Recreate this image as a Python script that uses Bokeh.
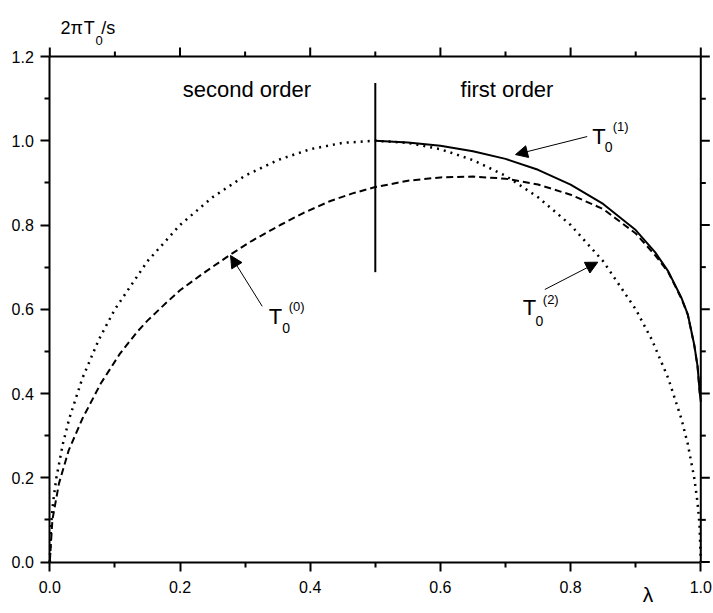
from bokeh.plotting import figure
from bokeh.models import (Range1d, LinearAxis, FixedTicker, PrintfTickFormatter,
                          Arrow, NormalHead, Label)
from bokeh.embed import file_html
from bokeh.resources import INLINE

# ---- data ----
lam_t2 = [0.0, 0.002, 0.005, 0.01, 0.02, 0.03, 0.05, 0.075, 0.1, 0.15, 0.2, 0.25, 0.3, 0.35, 0.4, 0.45,
          0.5, 0.55, 0.6, 0.65, 0.7, 0.75, 0.8, 0.85, 0.9, 0.925, 0.95, 0.97, 0.98, 0.99, 0.995, 0.998, 1.0]
t2 = [0.0, 0.089, 0.141, 0.199, 0.280, 0.341, 0.436, 0.527, 0.600, 0.714, 0.800, 0.866, 0.917, 0.954, 0.980, 0.995,
      1.000, 0.995, 0.980, 0.954, 0.917, 0.866, 0.800, 0.714, 0.600, 0.527, 0.436, 0.341, 0.280, 0.199, 0.141, 0.089, 0.0]

lam_t0 = [0.0, 0.004, 0.014, 0.029, 0.05, 0.078, 0.1075, 0.134, 0.15, 0.18, 0.2, 0.24, 0.2776, 0.31, 0.354,
          0.39, 0.431, 0.465, 0.5, 0.55, 0.6, 0.65, 0.7, 0.75, 0.8, 0.85, 0.9, 0.93, 0.95, 0.97, 0.98, 0.99,
          0.995, 0.9985]
t0 = [0.0, 0.100, 0.186, 0.265, 0.340, 0.423, 0.494, 0.546, 0.573, 0.617, 0.645, 0.690, 0.730, 0.762, 0.800,
      0.829, 0.857, 0.875, 0.890, 0.905, 0.913, 0.915, 0.910, 0.896, 0.872, 0.838, 0.780, 0.728, 0.688, 0.626,
      0.587, 0.514, 0.464, 0.400]

lam_t1 = [0.5, 0.55, 0.6, 0.65, 0.7, 0.75, 0.8, 0.85, 0.9, 0.93, 0.95, 0.97, 0.98, 0.99, 0.995, 0.9985, 1.0]
t1 = [1.000, 0.996, 0.988, 0.975, 0.957, 0.931, 0.896, 0.850, 0.788, 0.735, 0.690, 0.628, 0.588, 0.515, 0.465,
      0.400, 0.380]

vline_x = [0.5, 0.5]
vline_y = [0.688, 1.137]

x_major = [0.0, 0.2, 0.4, 0.6, 0.8, 1.0]
x_minor = [0.1, 0.3, 0.5, 0.7, 0.9]
y_major = [0.0, 0.2, 0.4, 0.6, 0.8, 1.0, 1.2]
y_minor = [0.1, 0.3, 0.5, 0.7, 0.9, 1.1]

# annotation positions (data units)
arrows = [  # (x_start, y_start, x_end, y_end)
    (0.8255, 1.010, 0.7154, 0.9672),
    (0.7604, 0.6469, 0.8418, 0.7117),
    (0.3263, 0.6070, 0.2776, 0.7276),
]

FONT = "Liberation Sans"
W, H = 712, 612
# frame spans the whole canvas; axes are drawn at fixed locations inside it
PX_X = 651.0      # pixels per unit of lambda
PX_Y = 421.25     # pixels per unit of y
X0_PX, Y0_PX = 49.3, 561.5

p = figure(width=W, height=H, output_backend="svg", toolbar_location=None,
           x_range=Range1d(-X0_PX / PX_X, (W - X0_PX) / PX_X),
           y_range=Range1d((Y0_PX - H) / PX_Y, Y0_PX / PX_Y),
           x_axis_type=None, y_axis_type=None,
           min_border_left=0, min_border_right=0, min_border_top=0, min_border_bottom=0)
p.xgrid.grid_line_color = None
p.ygrid.grid_line_color = None
p.outline_line_color = None
p.background_fill_color = "white"
p.border_fill_color = "white"


def style_axis(ax, major, minor, standoff):
    ax.ticker = FixedTicker(ticks=major, minor_ticks=minor)
    ax.formatter = PrintfTickFormatter(format="%.1f")
    ax.axis_line_width = 2
    ax.axis_line_color = "black"
    ax.major_tick_line_width = 2
    ax.major_tick_line_color = "black"
    ax.minor_tick_line_width = 2
    ax.minor_tick_line_color = "black"
    ax.major_tick_out = 9
    ax.major_tick_in = 0
    ax.minor_tick_out = 5
    ax.minor_tick_in = 0
    ax.major_label_text_font = FONT
    ax.major_label_text_color = "black"
    ax.major_label_text_font_size = "16px"
    ax.major_label_standoff = standoff


bottom = LinearAxis(fixed_location=0.0, bounds=(x_major[0], x_major[-1]))
style_axis(bottom, x_major, x_minor, 10)
p.add_layout(bottom, "below")
left = LinearAxis(fixed_location=0.0, bounds=(y_major[0], y_major[-1]))
style_axis(left, y_major, y_minor, 7)
p.add_layout(left, "left")

# top and right frame edges with outward ticks (no labels)
x_top, y_right = x_major[-1], y_major[-1]
tick_major_dx, tick_minor_dx = 9 / PX_X, 5 / PX_X
tick_major_dy, tick_minor_dy = 9 / PX_Y, 5 / PX_Y
top_major_x = [v for v in x_major for _ in (0, 1)]
top_major_y = [y_right, y_right + tick_major_dy] * len(x_major)
p.line([x_major[0], x_top], [y_right, y_right], line_color="black", line_width=2)
p.line([x_top, x_top], [y_major[0], y_right], line_color="black", line_width=2)
p.multi_line(xs=[[v, v] for v in x_major], ys=[[y_right, y_right + tick_major_dy] for _ in x_major],
             line_color="black", line_width=2)
p.multi_line(xs=[[v, v] for v in x_minor], ys=[[y_right, y_right + tick_minor_dy] for _ in x_minor],
             line_color="black", line_width=2)
p.multi_line(xs=[[x_top, x_top + tick_major_dx] for _ in y_major], ys=[[v, v] for v in y_major],
             line_color="black", line_width=2)
p.multi_line(xs=[[x_top, x_top + tick_minor_dx] for _ in y_minor], ys=[[v, v] for v in y_minor],
             line_color="black", line_width=2)

# curves
p.line(lam_t2, t2, line_color="black", line_width=2.5, line_dash="2 5")
p.line(lam_t0, t0, line_color="black", line_width=2, line_dash="7 4")
p.line(lam_t1, t1, line_color="black", line_width=2)
p.line(vline_x, vline_y, line_color="black", line_width=2)

for xs, ys, xe, ye in arrows:
    p.add_layout(Arrow(x_start=xs, y_start=ys, x_end=xe, y_end=ye, line_width=1, line_color="black",
                       end=NormalHead(size=12, fill_color="black", line_color="black", line_width=1)))


def lab(x, y, text, size):
    p.add_layout(Label(x=x, y=y, text=text, text_font=FONT, text_font_size=size,
                       text_color="black", text_align="left", text_baseline="alphabetic"))


lab(0.2042, 1.1219, "second order", "22px")
lab(0.6309, 1.1219, "first order", "22px")

# T0^(1)
lab(0.8332, 1.0106, "T", "22px")
lab(0.8525, 0.9845, "0", "14px")
lab(0.8648, 1.0338, "(1)", "13px")
# T0^(2)
lab(0.7266, 0.6030, "T", "22px")
lab(0.7461, 0.5730, "0", "14px")
lab(0.7573, 0.6231, "(2)", "13px")
# T0^(0)
lab(0.3364, 0.5833, "T", "22px")
lab(0.3570, 0.5557, "0", "14px")
lab(0.3671, 0.6065, "(0)", "13px")

# y title 2πT0/s
lab(0.0164, 1.2679, "2π", "18px")
lab(0.0522, 1.2679, "T", "18px")
lab(0.0702, 1.2390, "0", "13px")
lab(0.0790, 1.2679, "/s", "18px")

# x title λ
lab(0.9109, -0.0776, "λ", "21px")

open("out.html", "w").write(file_html(p, INLINE))
